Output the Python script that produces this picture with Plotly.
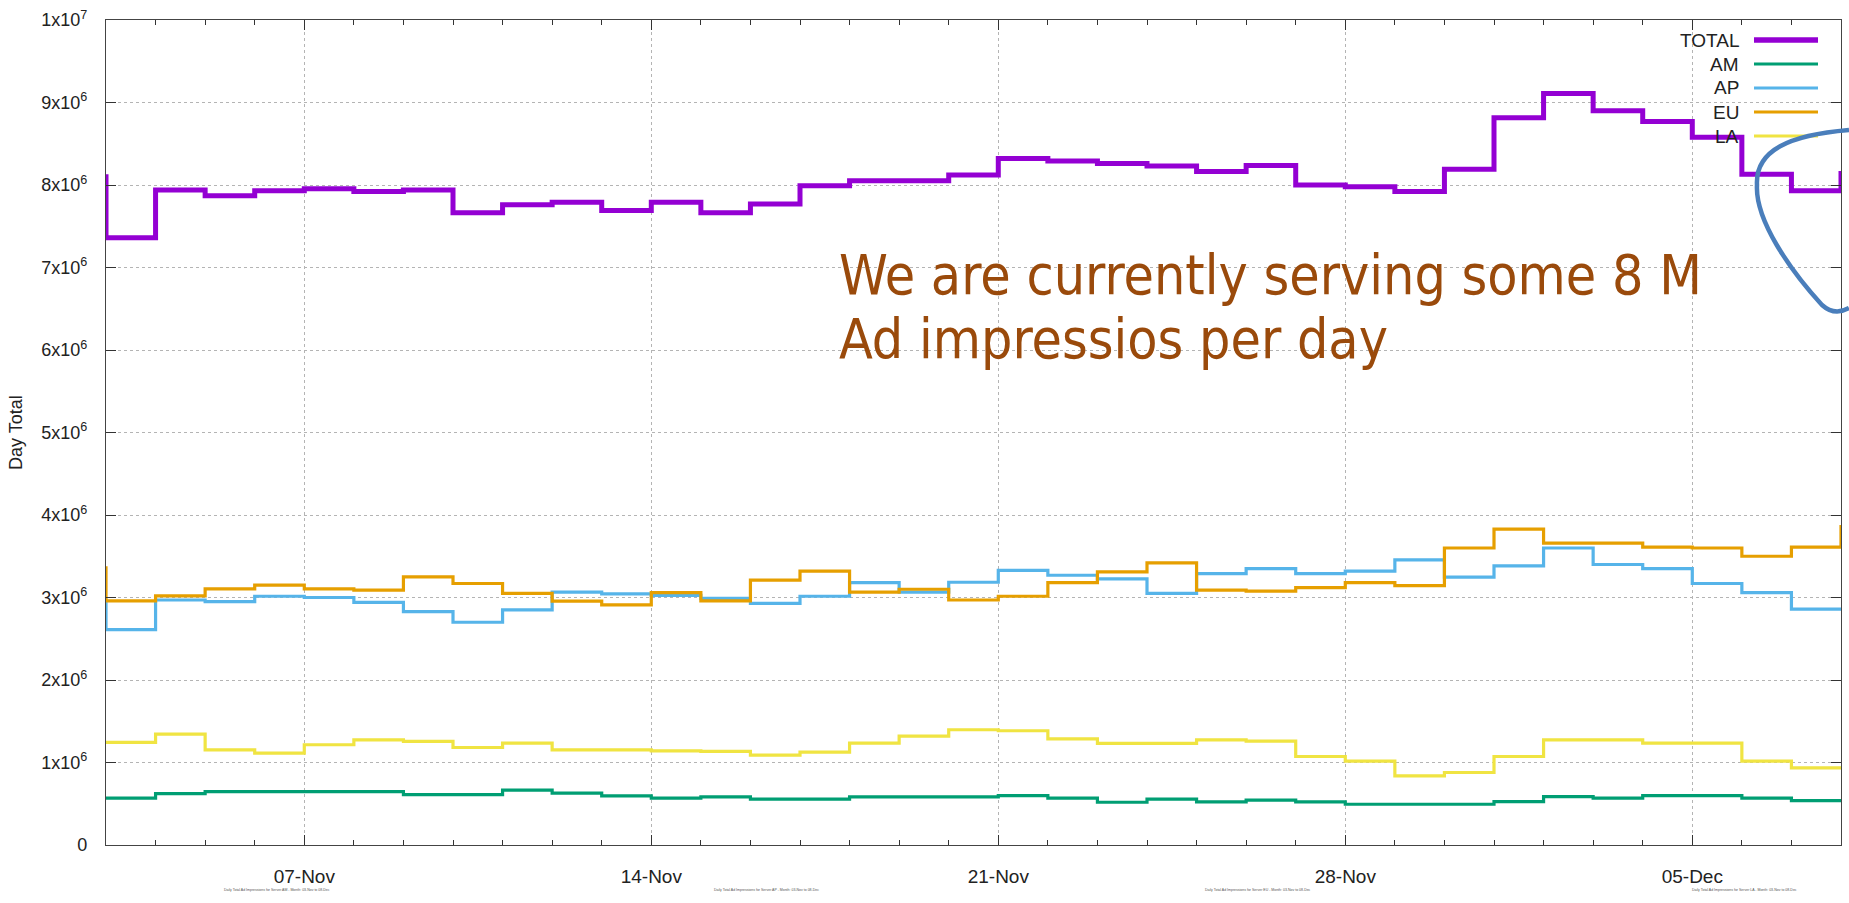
import plotly.graph_objects as go
import pandas as pd
import numpy as np

# ---------------- data (values in millions of impressions) ----------------
dates = pd.date_range("2014-11-02", "2014-12-08", freq="D")

series_names = ["TOTAL", "AM", "AP", "EU", "LA"]
series_colors = ["#9400d3", "#009e73", "#56b4e9", "#e69f00", "#f0e442"]
series_widths = [5, 3.2, 3.2, 3.2, 3.2]

total_m = [8.10, 7.36, 7.94, 7.87, 7.93, 7.955, 7.92, 7.94, 7.665, 7.76, 7.79, 7.69,
           7.79, 7.665, 7.77, 7.99, 8.05, 8.05, 8.12, 8.32, 8.29, 8.26, 8.23, 8.165,
           8.235, 8.00, 7.98, 7.92, 8.19, 8.816, 9.11, 8.90, 8.77, 8.58, 8.13, 7.93, 8.17]
am_m = [0.567, 0.567, 0.623, 0.648, 0.648, 0.648, 0.648, 0.611, 0.611, 0.664, 0.628, 0.595,
        0.567, 0.583, 0.555, 0.555, 0.583, 0.583, 0.583, 0.599, 0.567, 0.518, 0.555, 0.522,
        0.543, 0.522, 0.494, 0.494, 0.494, 0.526, 0.587, 0.567, 0.599, 0.599, 0.567, 0.538, 0.538]
ap_m = [2.95, 2.61, 2.97, 2.95, 3.015, 3.00, 2.94, 2.83, 2.70, 2.85, 3.065, 3.045,
        3.025, 2.99, 2.93, 3.015, 3.18, 3.065, 3.185, 3.33, 3.27, 3.225, 3.05, 3.29,
        3.35, 3.29, 3.32, 3.457, 3.246, 3.384, 3.60, 3.40, 3.35, 3.17, 3.06, 2.86, 2.86]
eu_m = [3.36, 2.96, 3.02, 3.105, 3.15, 3.105, 3.09, 3.25, 3.17, 3.05, 2.955, 2.91,
        3.06, 2.96, 3.21, 3.32, 3.065, 3.10, 2.97, 3.015, 3.18, 3.31, 3.42, 3.09,
        3.077, 3.12, 3.18, 3.145, 3.60, 3.83, 3.66, 3.66, 3.61, 3.60, 3.50, 3.61, 3.88]
la_m = [1.243, 1.243, 1.344, 1.154, 1.113, 1.215, 1.275, 1.255, 1.182, 1.235, 1.154, 1.154,
        1.142, 1.134, 1.09, 1.125, 1.235, 1.32, 1.397, 1.385, 1.287, 1.231, 1.231, 1.275,
        1.259, 1.073, 1.016, 0.838, 0.879, 1.073, 1.275, 1.275, 1.235, 1.235, 1.016, 0.935, 0.92]

series_values = [total_m, am_m, ap_m, eu_m, la_m]

y_tick_vals = [0, 1e6, 2e6, 3e6, 4e6, 5e6, 6e6, 7e6, 8e6, 9e6, 1e7]
y_tick_text = ["0", "1x10<sup>6</sup>", "2x10<sup>6</sup>", "3x10<sup>6</sup>",
               "4x10<sup>6</sup>", "5x10<sup>6</sup>", "6x10<sup>6</sup>",
               "7x10<sup>6</sup>", "8x10<sup>6</sup>", "9x10<sup>6</sup>",
               "1x10<sup>7</sup>"]

x_range = ["2014-11-03", "2014-12-08"]
note_lines = ["We are currently serving some 8 M", "Ad impressios per day"]
footers = ["Daily Total Ad Impressions for Server AM - Month: 03-Nov to 08-Dec",
           "Daily Total Ad Impressions for Server AP - Month: 03-Nov to 08-Dec",
           "Daily Total Ad Impressions for Server EU - Month: 03-Nov to 08-Dec",
           "Daily Total Ad Impressions for Server LA - Month: 03-Nov to 08-Dec"]

# ---------------- geometry (pixels) ----------------
W, H = 1849, 903
L, R, T, B = 106, 1841, 20, 845


def px(x):
    return (x - L) / (R - L)


def py(y):
    return (B - y) / (B - T)


FONT = "Liberation Sans, Arial, Helvetica, sans-serif"
HAND = "DejaVu Sans Condensed, Liberation Sans Narrow, DejaVu Sans, sans-serif"

fig = go.Figure()
for name, col, lw, vals in zip(series_names, series_colors, series_widths, series_values):
    fig.add_trace(go.Scatter(
        x=dates, y=np.array(vals) * 1e6, name=name, mode="lines",
        line=dict(color=col, width=lw, shape="hv"), showlegend=False,
    ))

shapes = []
annotations = []

# white boxes behind legend and note (hide grid lines)
shapes.append(dict(type="rect", xref="paper", yref="paper", layer="between",
                   x0=px(1676), x1=px(1840), y0=py(150), y1=py(21),
                   fillcolor="white", line=dict(width=0)))
shapes.append(dict(type="rect", xref="paper", yref="paper", layer="between",
                   x0=px(820), x1=px(1777), y0=py(378), y1=py(233),
                   fillcolor="white", line=dict(width=0)))

# custom legend (text left of sample, gnuplot style)
leg_y = [40, 64, 88, 112, 136]
for name, col, lw, yy in zip(series_names, series_colors, series_widths, leg_y):
    annotations.append(dict(xref="paper", yref="paper", x=px(1741), y=py(yy),
                            xanchor="right", yanchor="middle", text=name,
                            showarrow=False, font=dict(family=FONT, size=19, color="#222")))
    shapes.append(dict(type="line", xref="paper", yref="paper",
                       x0=px(1754), x1=px(1818), y0=py(yy), y1=py(yy),
                       line=dict(color=col, width=lw + (0.5 if lw > 4 else 0))))

# handwritten note
annotations.append(dict(xref="paper", yref="paper", x=px(838), y=py(275),
                        xanchor="left", yanchor="middle", text=note_lines[0],
                        showarrow=False, borderpad=0,
                        font=dict(family=HAND, size=55, color="#9a4a0b")))
annotations.append(dict(xref="paper", yref="paper", x=px(838), y=py(339),
                        xanchor="left", yanchor="middle", text=note_lines[1],
                        showarrow=False, borderpad=0,
                        font=dict(family=HAND, size=55, color="#9a4a0b")))

# blue hand-drawn loop
pts = [(1849, 130), (1790, 135), (1755, 150), (1757, 185),
       (1755, 220), (1790, 270), (1822, 305),
       (1832, 314), (1842, 312), (1849, 308)]
pp = [(px(a), py(b)) for a, b in pts]
path = "M {} {} C {} {}, {} {}, {} {} C {} {}, {} {}, {} {} C {} {}, {} {}, {} {}".format(
    *[c for p in pp for c in p])
shapes.append(dict(type="path", xref="paper", yref="paper", path=path,
                   line=dict(color="#4a7ebb", width=4.5), layer="above"))

# y-axis title
annotations.append(dict(xref="paper", yref="paper", x=px(15.5), y=0.5, textangle=-90,
                        xanchor="center", yanchor="middle", text="Day Total",
                        showarrow=False, font=dict(family=FONT, size=18, color="#222")))

# tiny footers
for txt, xc in zip(footers, [277, 766, 1258, 1744]):
    annotations.append(dict(xref="paper", yref="paper", x=px(xc), y=py(890),
                            xanchor="center", yanchor="middle", text=txt,
                            showarrow=False, font=dict(family=FONT, size=3.5, color="#555")))

fig.update_layout(
    width=W, height=H,
    margin=dict(l=L, r=W - R, t=T, b=H - B, pad=0),
    paper_bgcolor="white", plot_bgcolor="white",
    shapes=shapes, annotations=annotations,
    showlegend=False,
    font=dict(family=FONT, color="#222"),
)

fig.update_xaxes(
    type="date", range=x_range,
    tick0="2014-11-07", dtick=7 * 86400000, tickformat="%d-%b",
    ticks="inside", ticklen=10, tickwidth=1.3, tickcolor="#333",
    showline=True, linecolor="#444", linewidth=1.3, mirror="ticks",
    showgrid=True, gridcolor="#b4b4b4", gridwidth=1, griddash="3px,3px",
    tickfont=dict(family=FONT, size=19, color="#222"),
    ticklabelstandoff=14,
    minor=dict(tick0="2014-11-03", dtick=86400000, ticks="inside", ticklen=5,
               tickwidth=1.3, tickcolor="#333", showgrid=False),
    zeroline=False,
)
fig.update_yaxes(
    range=[0, 1e7], tickmode="array", tickvals=y_tick_vals, ticktext=y_tick_text,
    ticks="inside", ticklen=10, tickwidth=1.3, tickcolor="#333",
    showline=True, linecolor="#444", linewidth=1.3, mirror="ticks",
    showgrid=True, gridcolor="#b4b4b4", gridwidth=1, griddash="dot",
    tickfont=dict(family=FONT, size=18, color="#222"),
    ticklabelstandoff=14,
    zeroline=False,
)

fig.write_html("out.html", config={"displayModeBar": False},
               post_script="document.body.style.margin='0';document.body.style.overflow='hidden';")
